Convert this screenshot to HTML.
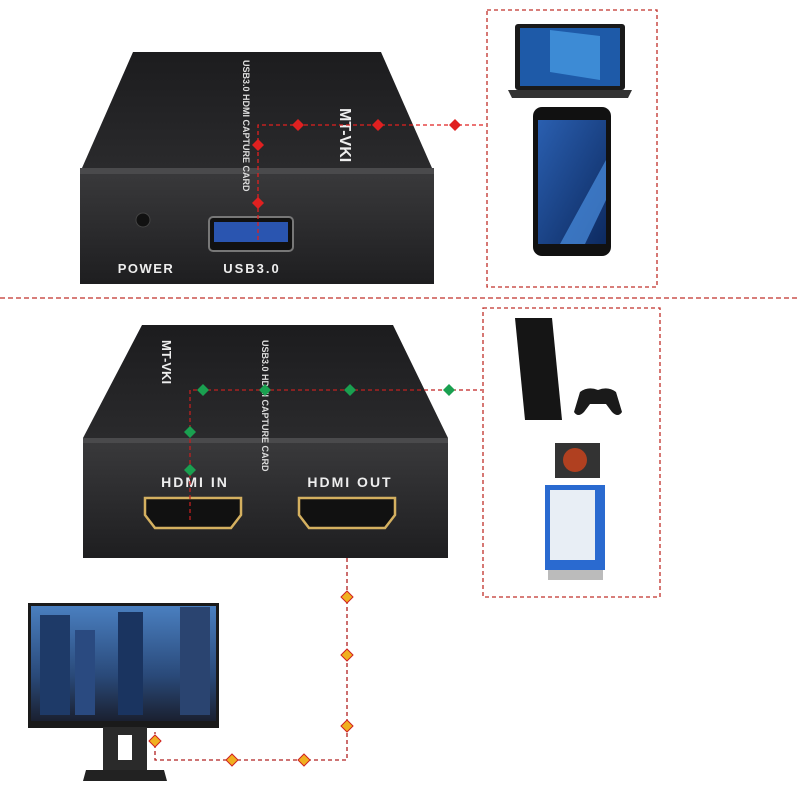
<!DOCTYPE html>
<html><head><meta charset="utf-8"><style>body{margin:0;background:#fff}svg{display:block}</style></head><body>
<svg width="800" height="800" viewBox="0 0 800 800" xmlns="http://www.w3.org/2000/svg" font-family="Liberation Sans, sans-serif">
<defs>
<linearGradient id="tf" x1="0" y1="0" x2="0" y2="1"><stop offset="0" stop-color="#1c1c1e"/><stop offset="1" stop-color="#2a2a2c"/></linearGradient>
<linearGradient id="ff" x1="0" y1="0" x2="0" y2="1"><stop offset="0" stop-color="#3a3a3c"/><stop offset="1" stop-color="#1e1e20"/></linearGradient>
<linearGradient id="sky" x1="0" y1="0" x2="0" y2="1"><stop offset="0" stop-color="#4a7fc0"/><stop offset="0.6" stop-color="#2a4a7a"/><stop offset="1" stop-color="#1a2030"/></linearGradient>
<linearGradient id="ph" x1="0" y1="0" x2="1" y2="1"><stop offset="0" stop-color="#2a5fb0"/><stop offset="1" stop-color="#0d2a60"/></linearGradient>
</defs>
<!-- divider -->
<line x1="0" y1="298" x2="800" y2="298" stroke="#c0302a" stroke-width="1.3" stroke-dasharray="5,3"/>
<!-- top right box -->
<rect x="487" y="10" width="170" height="277" fill="none" stroke="#c0302a" stroke-width="1.3" stroke-dasharray="4,3"/>
<!-- laptop -->
<rect x="515" y="24" width="110" height="66" rx="3" fill="#1a1a1a"/>
<rect x="520" y="28" width="100" height="58" fill="#1e5aa8"/>
<path d="M550 30 L600 36 L600 80 L550 72Z" fill="#4aa0e8" opacity="0.7"/>
<path d="M508 90 L632 90 L628 98 L512 98Z" fill="#333"/>
<!-- phone -->
<rect x="533" y="107" width="78" height="149" rx="9" fill="#111"/>
<rect x="538" y="120" width="68" height="124" fill="url(#ph)"/>
<path d="M560 244 L606 160 L606 200 L585 244Z" fill="#4a8ee0" opacity="0.7"/>
<!-- top device -->
<polygon points="133,52 381,52 432,168 82,168" fill="url(#tf)"/>
<rect x="80" y="168" width="354" height="116" fill="url(#ff)"/>
<rect x="80" y="168" width="354" height="6" fill="#4a4a4c"/>
<circle cx="143" cy="220" r="7" fill="#111" stroke="#444"/>
<rect x="209" y="217" width="84" height="34" rx="4" fill="#111" stroke="#777" stroke-width="2"/>
<rect x="214" y="222" width="74" height="20" fill="#2a55b0"/>
<text x="146" y="273" font-size="13" fill="#eee" font-weight="bold" text-anchor="middle" letter-spacing="1.5">POWER</text>
<text x="252" y="273" font-size="13" fill="#eee" font-weight="bold" text-anchor="middle" letter-spacing="2">USB3.0</text>
<text transform="translate(243,60) rotate(90)" font-size="9" fill="#ddd" font-weight="bold">USB3.0 HDMI CAPTURE CARD</text>
<text transform="translate(340,108) rotate(90)" font-size="16" fill="#eee" font-weight="bold">MT-VKI</text>
<!-- red connectors -->
<path d="M258 240 L258 125 L485 125" fill="none" stroke="#e02020" stroke-width="1.3" stroke-dasharray="4,3"/>
<g fill="#e02020"><path d="M298 119l6 6-6 6-6-6z"/><path d="M378 119l6 6-6 6-6-6z"/><path d="M455 119l6 6-6 6-6-6z"/><path d="M258 139l6 6-6 6-6-6z"/><path d="M258 197l6 6-6 6-6-6z"/></g>
<!-- bottom right box -->
<rect x="483" y="308" width="177" height="289" fill="none" stroke="#c0302a" stroke-width="1.3" stroke-dasharray="4,3"/>
<!-- ps4 -->
<polygon points="515,318 552,318 562,420 525,420" fill="#151515"/>
<path d="M580 392 q8-6 18-2 q10-4 18 2 l6 20 q-4 6-10 0 l-6-8 h-16 l-6 8 q-6 6-10 0z" fill="#1a1a1a"/>
<!-- medical cart -->
<rect x="555" y="443" width="45" height="35" fill="#333"/>
<circle cx="575" cy="460" r="12" fill="#b04020"/>
<rect x="545" y="485" width="60" height="85" fill="#2a6ad0"/>
<rect x="550" y="490" width="45" height="70" fill="#e8eef5"/>
<rect x="548" y="570" width="55" height="10" fill="#bbb"/>
<!-- bottom device -->
<polygon points="142,325 393,325 448,438 83,438" fill="url(#tf)"/>
<rect x="83" y="438" width="365" height="120" fill="url(#ff)"/>
<rect x="83" y="438" width="365" height="5" fill="#4a4a4c"/>
<text x="195" y="487" font-size="14" fill="#eee" font-weight="bold" text-anchor="middle" letter-spacing="2">HDMI IN</text>
<text x="350" y="487" font-size="14" fill="#eee" font-weight="bold" text-anchor="middle" letter-spacing="2">HDMI OUT</text>
<path d="M145 498 H241 V515 L231 528 H155 L145 515Z" fill="#111" stroke="#d4b060" stroke-width="2.5"/>
<path d="M299 498 H395 V515 L385 528 H309 L299 515Z" fill="#111" stroke="#d4b060" stroke-width="2.5"/>
<text transform="translate(262,340) rotate(90)" font-size="9" fill="#ddd" font-weight="bold">USB3.0 HDMI CAPTURE CARD</text>
<text transform="translate(162,340) rotate(90)" font-size="13" fill="#eee" font-weight="bold">MT-VKI</text>
<!-- green connectors -->
<path d="M190 520 L190 390 L482 390" fill="none" stroke="#c02020" stroke-width="1.3" stroke-dasharray="4,3"/>
<g fill="#1aa050"><path d="M203 384l6 6-6 6-6-6z"/><path d="M265 384l6 6-6 6-6-6z"/><path d="M350 384l6 6-6 6-6-6z"/><path d="M449 384l6 6-6 6-6-6z"/><path d="M190 426l6 6-6 6-6-6z"/><path d="M190 464l6 6-6 6-6-6z"/></g>
<!-- orange connector -->
<path d="M347 558 L347 760 L155 760 L155 732" fill="none" stroke="#b02020" stroke-width="1.3" stroke-dasharray="4,3"/>
<g fill="#f0b020" stroke="#d02020" stroke-width="1"><path d="M347 591l6 6-6 6-6-6z"/><path d="M347 649l6 6-6 6-6-6z"/><path d="M347 720l6 6-6 6-6-6z"/><path d="M304 754l6 6-6 6-6-6z"/><path d="M232 754l6 6-6 6-6-6z"/><path d="M155 735l6 6-6 6-6-6z"/></g>
<!-- monitor -->
<rect x="28" y="603" width="191" height="125" fill="#1a1a1a"/>
<rect x="31" y="606" width="185" height="115" fill="url(#sky)"/>
<rect x="40" y="615" width="30" height="100" fill="#1e3a68"/>
<rect x="75" y="630" width="20" height="85" fill="#2a4a80"/>
<rect x="118" y="612" width="25" height="103" fill="#1a3460"/>
<rect x="180" y="607" width="30" height="108" fill="#2a4470"/>
<rect x="103" y="727" width="44" height="45" fill="#2a2a2a"/>
<rect x="118" y="735" width="14" height="25" fill="#fff"/>
<path d="M86 770 H164 L167 781 H83Z" fill="#222"/>
</svg>
</body></html>
